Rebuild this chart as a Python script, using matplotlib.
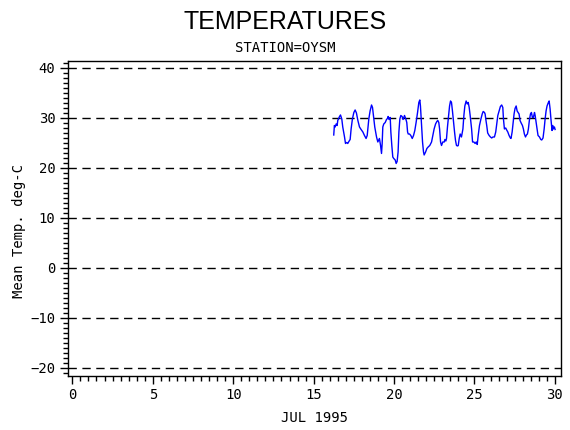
import matplotlib
matplotlib.use("Agg")
import matplotlib.pyplot as plt
from matplotlib.ticker import MultipleLocator

# hourly-ish temperature trace (day of July, deg C)
days = [16.25, 16.29, 16.34, 16.40, 16.46, 16.50, 16.61, 16.67, 16.75, 16.81,
        16.92, 16.98, 17.06, 17.12, 17.19, 17.27, 17.33, 17.41, 17.50, 17.58,
        17.66, 17.75, 17.85, 17.95, 18.06, 18.16, 18.26, 18.33, 18.37, 18.43,
        18.51, 18.60, 18.66, 18.72, 18.80, 18.91, 18.99, 19.09, 19.16, 19.22,
        19.26, 19.30, 19.36, 19.45, 19.53, 19.59, 19.63, 19.69, 19.76, 19.80,
        19.86, 19.92, 19.98, 20.07, 20.13, 20.19, 20.25, 20.30, 20.36, 20.42,
        20.50, 20.56, 20.65, 20.73, 20.79, 20.84, 20.88, 20.96, 21.04, 21.13,
        21.21, 21.29, 21.37, 21.46, 21.54, 21.60, 21.64, 21.71, 21.77, 21.83,
        21.87, 21.96, 22.04, 22.12, 22.22, 22.33, 22.41, 22.49, 22.58, 22.66,
        22.72, 22.78, 22.83, 22.89, 22.95, 23.03, 23.12, 23.16, 23.22, 23.26,
        23.32, 23.39, 23.45, 23.51, 23.57, 23.63, 23.70, 23.76, 23.82, 23.88,
        23.95, 23.99, 24.05, 24.11, 24.19, 24.28, 24.34, 24.40, 24.48, 24.55,
        24.61, 24.67, 24.73, 24.82, 24.88, 24.96, 25.04, 25.11, 25.17, 25.23,
        25.31, 25.40, 25.48, 25.54, 25.62, 25.66, 25.70, 25.76, 25.82, 25.91,
        25.99, 26.07, 26.15, 26.24, 26.32, 26.38, 26.45, 26.53, 26.61, 26.69,
        26.76, 26.80, 26.86, 26.94, 27.00, 27.07, 27.15, 27.23, 27.27, 27.34,
        27.40, 27.46, 27.52, 27.59, 27.65, 27.71, 27.77, 27.83, 27.90, 27.98,
        28.04, 28.10, 28.17, 28.23, 28.29, 28.35, 28.41, 28.48, 28.54, 28.60,
        28.66, 28.73, 28.77, 28.83, 28.89, 28.95, 29.04, 29.12, 29.18, 29.26,
        29.33, 29.39, 29.45, 29.51, 29.58, 29.64, 29.70, 29.76, 29.82, 29.86,
        29.90, 29.97, 30.01]
temps = [26.6, 28.5, 28.2, 28.8, 28.5, 29.5, 30.3, 30.6, 29.8, 28.2,
         26.2, 24.9, 25.1, 24.9, 25.3, 25.7, 27.8, 29.8, 31.1, 31.6,
         31.0, 29.5, 28.2, 27.7, 27.2, 26.5, 25.9, 26.5, 27.8, 29.8,
         31.4, 32.6, 32.1, 30.5, 28.2, 26.2, 25.2, 25.9, 24.5, 22.9,
         24.9, 28.2, 28.8, 29.1, 29.7, 29.9, 30.3, 29.7, 30.1, 27.2,
         24.5, 22.2, 21.9, 21.6, 20.9, 21.3, 23.2, 27.2, 29.8, 30.5,
         30.3, 29.7, 30.5, 29.8, 29.1, 27.2, 26.8, 26.8, 26.5, 25.9,
         26.5, 27.5, 29.1, 31.1, 33.1, 33.6, 32.4, 28.5, 25.2, 23.2,
         22.6, 23.2, 23.9, 24.2, 24.5, 25.2, 26.5, 27.8, 28.8, 29.3,
         29.5, 29.1, 27.8, 25.2, 24.5, 25.2, 25.2, 25.7, 25.4, 25.9,
         28.2, 30.5, 32.4, 33.4, 33.1, 31.4, 29.1, 27.2, 25.5, 24.5,
         24.4, 24.5, 25.9, 26.8, 26.2, 27.8, 30.5, 32.4, 33.4, 32.8,
         33.1, 32.1, 30.5, 27.8, 25.2, 25.2, 24.9, 25.2, 24.7, 26.5,
         28.5, 29.8, 30.8, 31.3, 31.1, 30.8, 29.8, 28.5, 27.0, 26.5,
         26.2, 26.0, 26.2, 26.2, 27.2, 28.8, 30.5, 31.4, 32.3, 32.6,
         32.1, 29.8, 27.8, 28.0, 27.6, 27.2, 26.5, 26.0, 25.9, 27.2,
         29.1, 30.8, 31.9, 32.4, 31.4, 31.1, 30.8, 29.5, 29.0, 28.5,
         27.8, 26.8, 26.2, 26.6, 26.8, 27.8, 29.5, 30.8, 31.1, 30.1,
         30.1, 31.1, 30.5, 29.1, 27.8, 26.5, 26.2, 25.7, 25.6, 26.0,
         27.8, 29.8, 31.4, 32.4, 33.0, 33.4, 31.8, 29.5, 27.5, 28.5,
         27.8, 28.2, 27.7]

x_ticks = [0, 5, 10, 15, 20, 25, 30]
y_ticks = [-20, -10, 0, 10, 20, 30, 40]

mono = ["DejaVu Sans Mono"]

fig = plt.figure(figsize=(5.7, 4.3), dpi=100)
ax = fig.add_axes([0.1193, 0.1256, 0.8647, 0.7326])

for yv in y_ticks:
    ax.axhline(yv, color="black", lw=1.0, ls=(0, (6, 4)), zorder=1)

ax.plot(days, temps, color="#0000ff", lw=1.0, zorder=2)

ax.set_xlim(-0.27, 30.37)
ax.set_ylim(-21.6, 41.4)
ax.set_xticks(x_ticks)
ax.set_yticks(y_ticks)
ax.xaxis.set_minor_locator(MultipleLocator(0.5))
ax.yaxis.set_minor_locator(MultipleLocator(1))
ax.tick_params(which="both", direction="out", color="black", width=1,
               top=False, right=False)
ax.tick_params(which="major", length=6)
ax.tick_params(which="minor", length=3.5)
ax.tick_params(axis="x", pad=3)
ax.tick_params(axis="y", pad=3)
for lab in ax.get_xticklabels() + ax.get_yticklabels():
    lab.set_family(mono)
    lab.set_fontsize(10)

for sp in ax.spines.values():
    sp.set_linewidth(1.0)
    sp.set_color("black")

ax.set_xlabel("JUL 1995", family=mono, fontsize=10)
ax.set_ylabel("Mean Temp. deg-C", family=mono, fontsize=10)
ax.xaxis.set_label_coords(0.5, -0.112)
ax.yaxis.set_label_coords(-0.086, 0.46)

fig.text(0.5, 1 - 22 / 430, "TEMPERATURES", ha="center", va="center",
         family=["Liberation Sans", "DejaVu Sans"], fontsize=18)
fig.text(0.5, 1 - 47.5 / 430, "STATION=OYSM", ha="center", va="center",
         family=mono, fontsize=10)

fig.savefig("out.png", dpi=100)
